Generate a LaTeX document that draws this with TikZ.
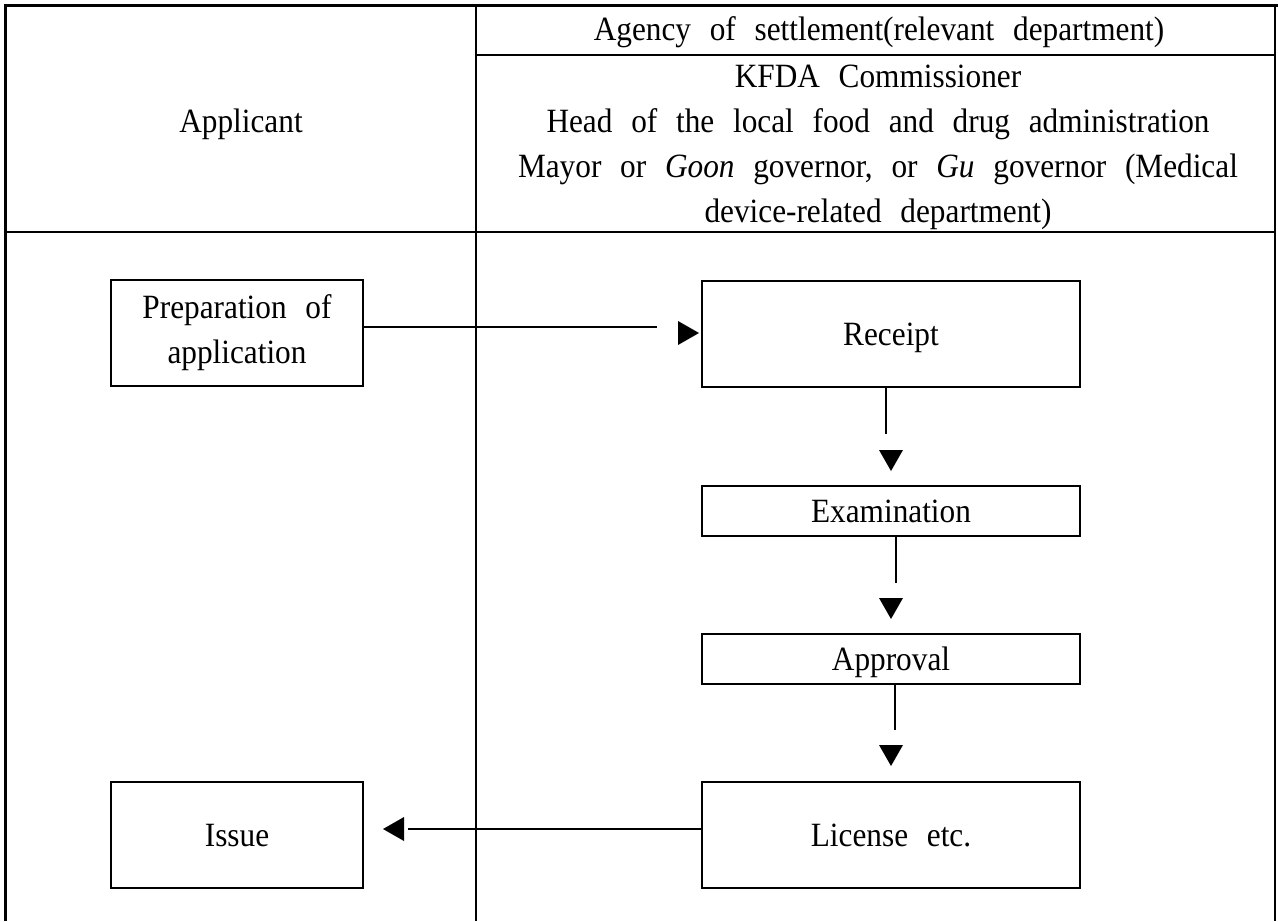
\documentclass[tikz,border=0pt]{standalone}
\usepackage{fontspec}
\setmainfont{Liberation Serif}[WordSpace=2.4, FakeStretch=0.92]
\usepackage{tikz}
\usetikzlibrary{positioning}
\newcommand{\chartfont}{\fontsize{17}{22.5}\selectfont}
% keeps the letters, not their descenders, on the node centre
\newcommand{\lift}{\rule[-0.22em]{0pt}{1.1em}}

\begin{document}
\begin{tikzpicture}[x=0.5pt, y=-0.5pt,
    every node/.style={font=\chartfont, align=center, inner sep=0pt,
      execute at begin node=\lift},
    frame/.style={line width=1.5pt},
    rule/.style={line width=0.6pt},
    stage/.style={draw, line width=0.6pt, minimum height=53pt},
    wide/.style={stage, minimum width=189pt},
    narrow/.style={stage, minimum width=126pt},
    short/.style={minimum height=25pt},
    flow/.style={line width=0.6pt},
    tip/.pic={\fill (0,-12) -- (21,0) -- (0,12) -- cycle;}]
  \useasboundingbox (0,0) rectangle (1278,921);

  % Table rules
  \draw[frame] (5,921) -- (5,5) -- (1278,5);
  \draw[rule] (1275,5) -- (1275,921);
  \draw[rule] (476,5) -- (476,921);
  \draw[rule] (476,55) -- (1275,55);
  \draw[rule] (5,232) -- (1275,232);

  % Column heads
  \node (applicant) at (241,121) {Applicant};
  \node (agency) at (879,29) {Agency of settlement(relevant department)};
  \node (officials) at (878,147) {KFDA Commissioner\\
    Head of the local food and drug administration\\
    Mayor or \textit{Goon} governor, or \textit{Gu} governor (Medical\\
    device-related department)};

  % Stages
  \node[narrow] (prep) at (237,333) {Preparation of\\application};
  \node[wide] (receipt) at (891,334) {Receipt};
  \node[wide, short] (exam) at (891,511) {Examination};
  \node[wide, short] (approval) at (891,659) {Approval};
  \node[wide] (license) at (891,835) {License etc.};
  \node[narrow] (issue) at (237,835) {Issue};

  % Connectors, each line stops short of its head
  \coordinate (a1) at (657,327);
  \coordinate (b1) at (886,434);
  \coordinate (b2) at (896,583);
  \coordinate (b3) at (895,730);
  \coordinate (c1) at (408,829);
  \draw[flow] (prep.east |- a1) -- (a1);
  \draw[flow] (b1 |- receipt.south) -- (b1);
  \draw[flow] (b2 |- exam.south) -- (b2);
  \draw[flow] (b3 |- approval.south) -- (b3);
  \draw[flow] (license.west |- c1) -- (c1);

  % Heads
  \pic at (678,333) {tip};
  \pic[rotate=-90] at (891,450) {tip};
  \pic[rotate=-90] at (891,598) {tip};
  \pic[rotate=-90] at (891,745) {tip};
  \pic[rotate=180] at (404,829) {tip};
\end{tikzpicture}
\end{document}
